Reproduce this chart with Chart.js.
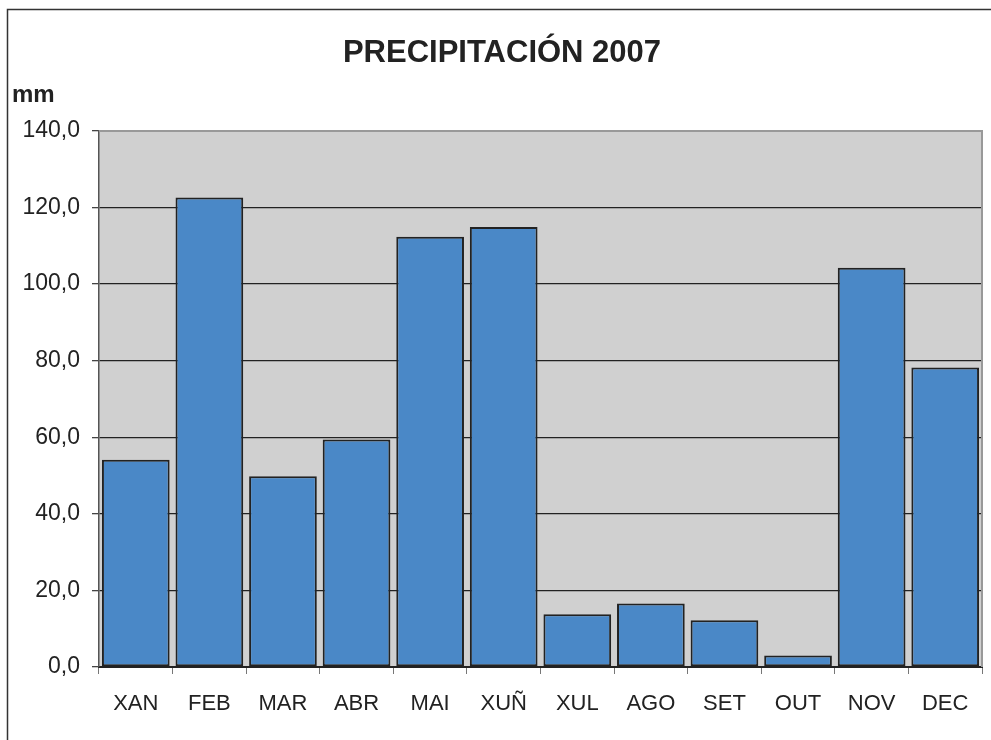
<!DOCTYPE html>
<html>
<head>
<meta charset="utf-8">
<script src="https://cdn.jsdelivr.net/npm/chart.js@4/dist/chart.umd.min.js"></script>
<style>
  html, body { margin: 0; padding: 0; background: #fff; }
  #wrap { width: 991px; height: 740px; position: relative; }
</style>
</head>
<body>
<div id="wrap"><canvas id="chart"></canvas></div>
<script>
// datos
var months = ['XAN', 'FEB', 'MAR', 'ABR', 'MAI', 'XUÑ', 'XUL', 'AGO', 'SET', 'OUT', 'NOV', 'DEC'];
var rainfall = [54.1, 122.6, 49.8, 59.4, 112.4, 114.9, 13.8, 16.6, 12.2, 3.0, 104.3, 78.2];
var yTicks = ['0,0', '20,0', '40,0', '60,0', '80,0', '100,0', '120,0', '140,0'];
var chartTitle = 'PRECIPITACIÓN 2007';
var unitLabel = 'mm';

var FONT = '"Liberation Sans", Arial, sans-serif';

// plot background, borders and texts
var decor = {
    id: 'decor',
    beforeDraw: function (chart) {
        var c = chart.ctx, a = chart.chartArea;
        c.save();
        c.fillStyle = '#d0d0d0';
        c.fillRect(a.left, a.top, a.right - a.left, a.bottom - a.top);
        c.restore();
    },
    beforeDatasetsDraw: function (chart) {
        var c = chart.ctx, a = chart.chartArea;
        c.save();
        c.strokeStyle = '#999';
        c.lineWidth = 2;
        c.beginPath();
        c.moveTo(a.left, a.top);
        c.lineTo(a.right, a.top);
        c.lineTo(a.right, a.bottom);
        c.stroke();
        c.restore();
    },
    afterDraw: function (chart) {
        var c = chart.ctx;
        c.save();
        // outer frame (left and top visible)
        c.strokeStyle = '#333';
        c.lineWidth = 1.5;
        c.beginPath();
        c.moveTo(7.5, 740);
        c.lineTo(7.5, 9.5);
        c.lineTo(991, 9.5);
        c.stroke();
        c.fillStyle = '#222';
        c.textAlign = 'center';
        c.textBaseline = 'alphabetic';
        c.font = 'bold 31px ' + FONT;
        c.fillText(chartTitle, 502, 62);
        c.textAlign = 'left';
        c.font = 'bold 24px ' + FONT;
        c.fillText(unitLabel, 12, 102);
        c.restore();
    }
};

var ctx = document.getElementById('chart').getContext('2d');
var myChart = new Chart(ctx, {
    type: 'bar',
    data: {
        labels: months,
        datasets: [{
            data: rainfall,
            backgroundColor: '#4a88c7',
            borderColor: '#222',
            borderWidth: 2,
            borderSkipped: false,
            barPercentage: 0.92,
            categoryPercentage: 1.0
        }]
    },
    options: {
        responsive: true,
        maintainAspectRatio: false,
        animation: false,
        layout: { padding: { top: 131, right: 9, left: 0, bottom: 0 } },
        plugins: {
            legend: { display: false },
            tooltip: { enabled: false },
            title: { display: false }
        },
        scales: {
            x: {
                grid: {
                    offset: true,
                    drawOnChartArea: false,
                    drawTicks: true,
                    tickLength: 7,
                    color: '#777'
                },
                border: { color: '#222', width: 2 },
                ticks: {
                    color: '#222',
                    font: { family: FONT, size: 22 },
                    padding: 17,
                    maxRotation: 0
                },
                afterFit: function (scale) { scale.height = 73; }
            },
            y: {
                min: 0,
                max: 140,
                ticks: {
                    stepSize: 20,
                    color: '#222',
                    padding: 12,
                    font: { family: FONT, size: 23 },
                    callback: function (value, index) { return yTicks[index]; }
                },
                grid: {
                    color: function (c) { return c.tick && c.tick.value === 140 ? '#999' : '#222'; },
                    tickColor: '#444',
                    tickLength: 7,
                    lineWidth: 1.3
                },
                border: { color: '#555', width: 1.5 },
                afterFit: function (scale) { scale.width = 99; }
            }
        }
    },
    plugins: [decor]
});
</script>
</body>
</html>
